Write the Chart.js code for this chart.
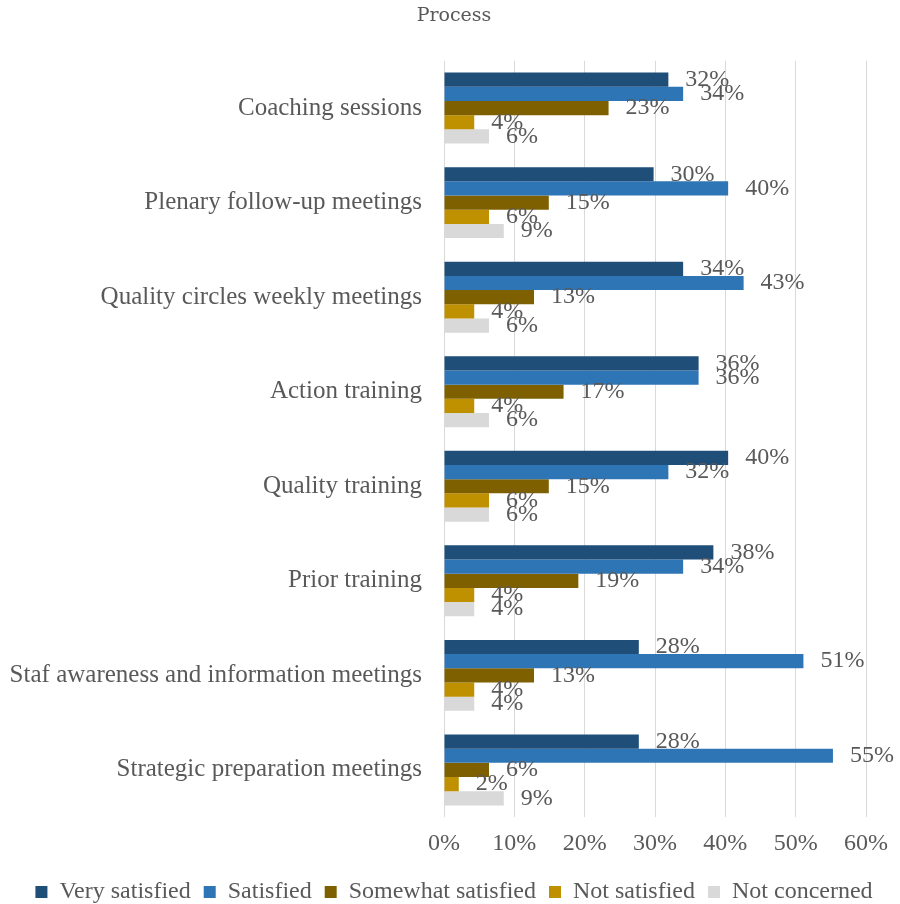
<!DOCTYPE html>
<html>
<head>
<meta charset="utf-8">
<script src="https://cdn.jsdelivr.net/npm/chart.js@4.4.1/dist/chart.umd.min.js"></script>
<style>
  html, body { margin: 0; padding: 0; background: #fff; }
  #wrap { width: 900px; height: 904px; }
</style>
</head>
<body>
<div id="wrap"><canvas id="processChart"></canvas></div>
<script>
// categories (top to bottom)
const processes = [
  'Coaching sessions',
  'Plenary follow-up meetings',
  'Quality circles weekly meetings',
  'Action training',
  'Quality training',
  'Prior training',
  'Staf awareness and information meetings',
  'Strategic preparation meetings'
];

// share of answers, in %
const verySatisfied     = [31.9, 29.8, 34.0, 36.2, 40.4, 38.3, 27.7, 27.7];
const satisfied         = [34.0, 40.4, 42.6, 36.2, 31.9, 34.0, 51.1, 55.3];
const somewhatSatisfied = [23.4, 14.9, 12.8, 17.0, 14.9, 19.1, 12.8, 6.4];
const notSatisfied      = [4.3, 6.4, 4.3, 4.3, 6.4, 4.3, 4.3, 2.1];
const notConcerned      = [6.4, 8.5, 6.4, 6.4, 6.4, 4.3, 4.3, 8.5];

const xTicks = [0, 10, 20, 30, 40, 50, 60];

const FONT = "'Liberation Serif', 'Times New Roman', serif";
const GREY = '#595959';

// value labels right of each bar
const valueLabels = {
  id: 'valueLabels',
  afterDatasetsDraw(chart) {
    const ctx = chart.ctx;
    ctx.save();
    ctx.font = '24px ' + FONT;
    ctx.fillStyle = GREY;
    ctx.textAlign = 'left';
    ctx.textBaseline = 'middle';
    chart.data.datasets.forEach((ds, i) => {
      chart.getDatasetMeta(i).data.forEach((bar, j) => {
        ctx.fillText(Math.round(ds.data[j]) + '%', bar.x + 17, bar.y);
      });
    });
    ctx.restore();
  }
};

const series = [
  { label: 'Very satisfied', data: verySatisfied, backgroundColor: '#1F4E79' },
  { label: 'Satisfied', data: satisfied, backgroundColor: '#2E75B6' },
  { label: 'Somewhat satisfied', data: somewhatSatisfied, backgroundColor: '#7F6000' },
  { label: 'Not satisfied', data: notSatisfied, backgroundColor: '#BF9000' },
  { label: 'Not concerned', data: notConcerned, backgroundColor: '#D9D9D9' }
];

new Chart(document.getElementById('processChart'), {
  type: 'bar',
  data: {
    labels: processes,
    datasets: series.map(s => ({ ...s, categoryPercentage: 0.75, barPercentage: 1.0, borderWidth: 0 }))
  },
  options: {
    indexAxis: 'y',
    responsive: true,
    maintainAspectRatio: false,
    animation: false,
    layout: { padding: { left: 8, right: 0, top: 0, bottom: -10 } },
    scales: {
      x: {
        min: 0,
        max: 60,
        afterBuildTicks: s => { s.ticks = xTicks.map(v => ({ value: v })); },
        afterFit: s => { s.height = s.height - 3; },
        grid: { color: '#D9D9D9', drawTicks: false },
        border: { display: false },
        ticks: { color: GREY, font: { family: FONT, size: 24 }, padding: 12, callback: v => v + '%' }
      },
      y: {
        grid: { display: false, drawTicks: false },
        border: { display: false },
        afterFit: s => { s.width = 436; },
        ticks: { color: GREY, font: { family: FONT, size: 25 }, padding: 22 }
      },
      // empty strip on the right, keeps room for the last tick label
      yRight: {
        type: 'category',
        position: 'right',
        grid: { display: false },
        border: { display: false },
        ticks: { display: false },
        afterFit: s => { s.width = 31; }
      }
    },
    plugins: {
      title: {
        display: true,
        text: 'Process',
        color: GREY,
        font: { family: "'DejaVu Serif', serif", size: 19, weight: 'normal' },
        padding: { top: 5, bottom: 33 }
      },
      legend: {
        position: 'bottom',
        labels: {
          color: GREY,
          font: { family: FONT, size: 24 },
          boxWidth: 12,
          boxHeight: 12,
          padding: 13
        }
      },
      tooltip: { enabled: false }
    }
  },
  plugins: [valueLabels]
});
</script>
</body>
</html>
